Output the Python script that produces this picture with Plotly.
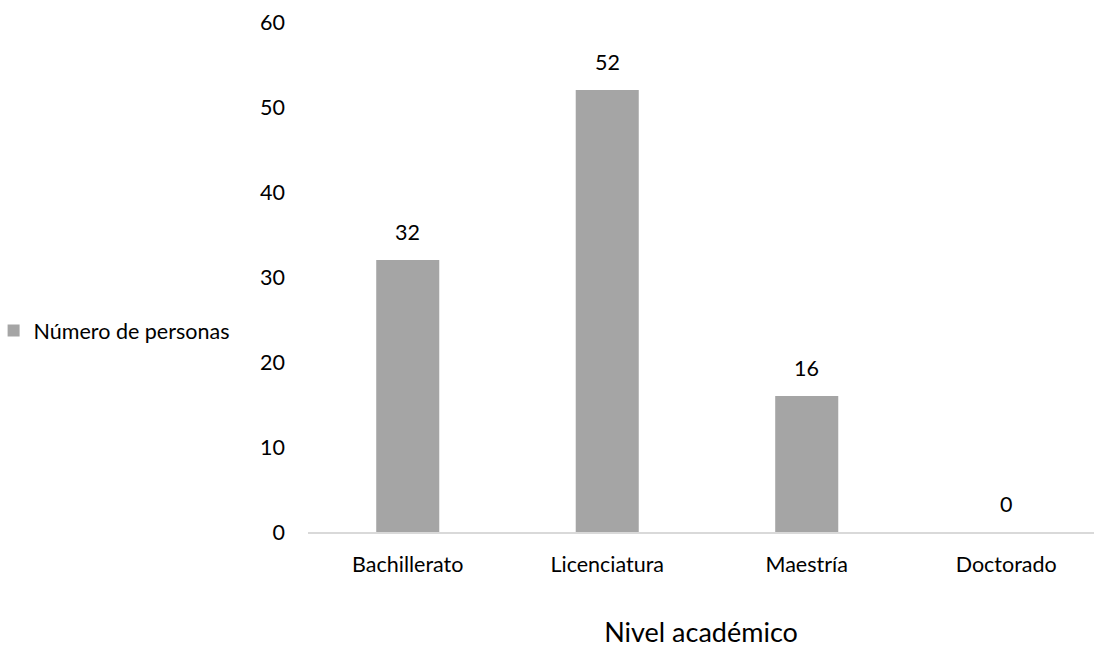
import plotly.graph_objects as go

categories = ["Bachillerato", "Licenciatura", "Maestría", "Doctorado"]
values = [32, 52, 16, 0]
series_name = "Número de personas"
y_ticks = [0, 10, 20, 30, 40, 50, 60]

FONT = "Lato, Carlito, Calibri, sans-serif"
BAR = "#a5a5a5"
FS = 21.5

fig = go.Figure()
fig.add_trace(go.Bar(
    x=categories, y=values, name=series_name,
    marker=dict(color=BAR, line=dict(width=0)),
    width=0.316, showlegend=True,
))

for c, v in zip(categories, values):
    fig.add_annotation(x=c, y=v, text=str(v), showarrow=False,
                       yanchor="bottom", yshift=13,
                       font=dict(family=FONT, size=FS, color="#000000"))

fig.update_layout(
    width=1094, height=648,
    margin=dict(l=308, r=0, t=22, b=116, autoexpand=False),
    paper_bgcolor="white", plot_bgcolor="white",
    font=dict(family=FONT, size=FS, color="#000000"),
    showlegend=True,
    legend=dict(x=-0.40, xanchor="left", y=0.395, yanchor="middle",
                font=dict(family=FONT, size=FS, color="#000000"),
                bgcolor="rgba(0,0,0,0)"),
    xaxis=dict(
        type="category", range=[-0.5, 3.44],
        showline=True, linecolor="#d9d9d9", linewidth=1.5,
        showgrid=False, zeroline=False, ticks="",
        ticklabelstandoff=12,
        title=dict(text="Nivel académico", standoff=50,
                   font=dict(family=FONT, size=27, color="#000000")),
        tickfont=dict(family=FONT, size=FS, color="#000000"),
    ),
    yaxis=dict(
        range=[0, 60], tickvals=y_ticks,
        showline=False, showgrid=False, zeroline=False, ticks="",
        ticklabelstandoff=22,
        tickfont=dict(family=FONT, size=FS, color="#000000"),
    ),
)

fig.write_html("out.html")
